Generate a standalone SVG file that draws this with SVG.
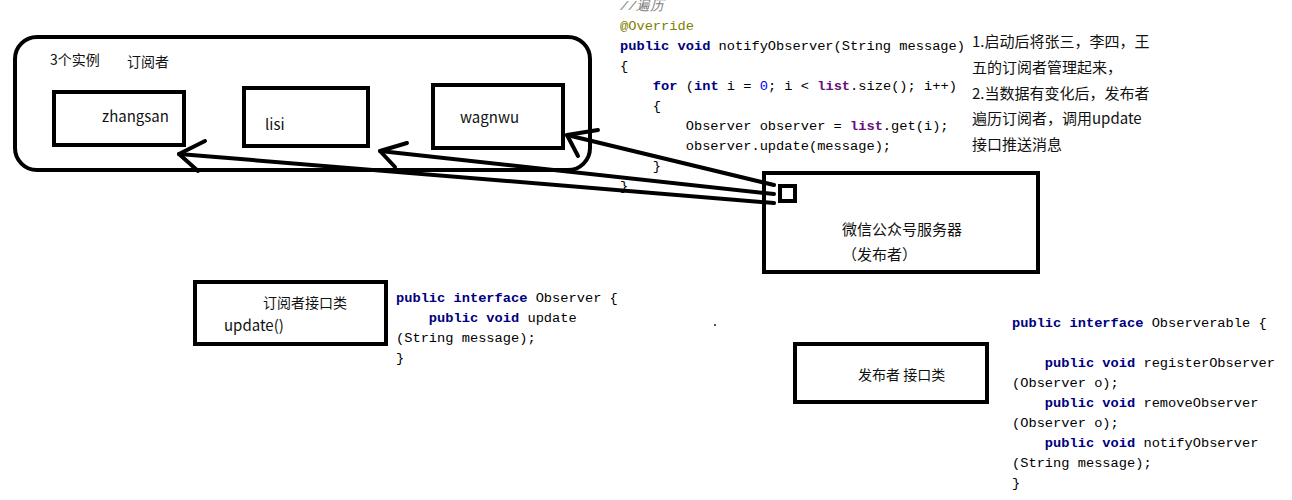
<svg xmlns="http://www.w3.org/2000/svg" width="1292" height="500" viewBox="0 0 1292 500">
<style>
.box{fill:none;stroke:#000;stroke-width:4}
.t{font-family:"Noto Sans CJK SC","Noto Sans",sans-serif;font-size:14px;fill:#111}
.s15{font-size:15px}
.c{font-family:"Liberation Mono",monospace;font-size:13.7px;fill:#000;white-space:pre}
.k{fill:#000080;font-weight:bold}
.p{fill:#660e7a;font-weight:bold}
.n{fill:#0000ff}
.cm{fill:#808080;font-style:italic}
.an{fill:#808000}
.ln{fill:none;stroke:#000;stroke-width:4;stroke-linecap:round;stroke-linejoin:round}
</style>
<rect width="1292" height="500" fill="#fff"/>

<g id="subscribers">
<rect class="box" x="15" y="37" width="575" height="133" rx="22"/>
<text class="t" x="50" y="65">3个实例</text>
<text class="t" x="127" y="67">订阅者</text>
</g>
<g id="zhangsan">
<rect class="box" x="54" y="92" width="130" height="53"/>
<text class="t s15" x="102" y="122">zhangsan</text>
</g>
<g id="lisi">
<rect class="box" x="244" y="88" width="124" height="58"/>
<text class="t s15" x="265" y="130">lisi</text>
</g>
<g id="wagnwu">
<rect class="box" x="433" y="85" width="130" height="63"/>
<text class="t s15" x="460" y="123">wagnwu</text>
</g>

<g id="notify-code">
<text class="c" x="620" y="10"><tspan class="cm">//遍历</tspan></text>
<text class="c" x="620" y="30"><tspan class="an">@Override</tspan></text>
<text class="c" x="620" y="50"><tspan class="k">public void</tspan> notifyObserver(String message)</text>
<text class="c" x="620" y="70">{</text>
<text class="c" x="620" y="90">    <tspan class="k">for</tspan> (<tspan class="k">int</tspan> i = <tspan class="n">0</tspan>; i &lt; <tspan class="p">list</tspan>.size(); i++)</text>
<text class="c" x="620" y="110">    {</text>
<text class="c" x="620" y="130">        Observer observer = <tspan class="p">list</tspan>.get(i);</text>
<text class="c" x="620" y="150">        observer.update(message);</text>
<text class="c" x="620" y="170">    }</text>
<text class="c" x="620" y="190">}</text>
</g>

<g id="notes">
<text class="t s15" x="972" y="47">1.启动后将张三，李四，王</text>
<text class="t s15" x="972" y="73">五的订阅者管理起来，</text>
<text class="t s15" x="972" y="99">2.当数据有变化后，发布者</text>
<text class="t s15" x="972" y="124">遍历订阅者，调用update</text>
<text class="t s15" x="972" y="150">接口推送消息</text>
</g>

<g id="publisher">
<rect class="box" x="764" y="173" width="274" height="99"/>
<rect class="box" x="780" y="186" width="15" height="15"/>
<text class="t s15" x="842" y="235">微信公众号服务器</text>
<text class="t s15" x="842" y="260">（发布者）</text>
</g>

<g id="observer-interface">
<rect class="box" x="195" y="282" width="191" height="62"/>
<text class="t" x="263" y="308">订阅者接口类</text>
<text class="t s15" x="224" y="331">update()</text>
</g>
<g id="observer-code">
<text class="c" x="396" y="302"><tspan class="k">public interface</tspan> Observer {</text>
<text class="c" x="396" y="322">    <tspan class="k">public void</tspan> update</text>
<text class="c" x="396" y="342">(String message);</text>
<text class="c" x="396" y="362">}</text>
</g>

<rect x="714" y="324" width="2" height="2" fill="#555"/>

<g id="observerable-interface">
<rect class="box" x="795" y="344" width="192" height="58"/>
<text class="t" x="858" y="380">发布者 接口类</text>
</g>
<g id="observerable-code">
<text class="c" x="1012" y="327"><tspan class="k">public interface</tspan> Observerable {</text>
<text class="c" x="1012" y="367">    <tspan class="k">public void</tspan> registerObserver</text>
<text class="c" x="1012" y="387">(Observer o);</text>
<text class="c" x="1012" y="407">    <tspan class="k">public void</tspan> removeObserver</text>
<text class="c" x="1012" y="427">(Observer o);</text>
<text class="c" x="1012" y="447">    <tspan class="k">public void</tspan> notifyObserver</text>
<text class="c" x="1012" y="467">(String message);</text>
<text class="c" x="1012" y="487">}</text>
</g>

<g id="connectors">
<polyline class="ln" points="774,185 567,135"/>
<polyline class="ln" points="598,130 567,135 578,156"/>
<polyline class="ln" points="774,194 380,151"/>
<polyline class="ln" points="407,143 380,151 395,167"/>
<polyline class="ln" points="774,203 179,154"/>
<polyline class="ln" points="205,141 179,154 198,171"/>
</g>
</svg>
